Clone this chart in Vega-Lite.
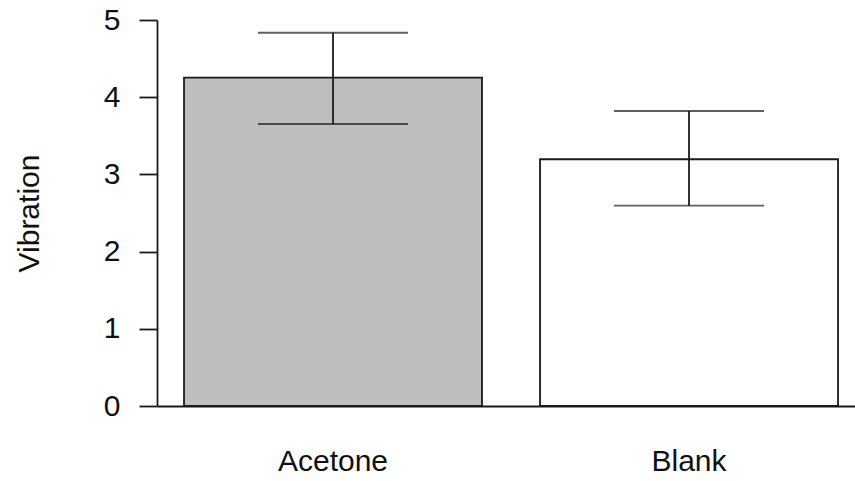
{
  "$schema": "https://vega.github.io/schema/vega-lite/v6.json",
  "width": 698,
  "height": 386,
  "autosize": {"type": "none"},
  "padding": {"left": 157, "top": 20, "right": 0, "bottom": 75},
  "background": "white",
  "config": {
    "view": {"stroke": null},
    "font": "Liberation Sans",
    "axis": {"labelFont": "Liberation Sans", "titleFont": "Liberation Sans", "labelColor": "#111", "titleColor": "#111", "domainColor": "#1a1a1a", "tickColor": "#1a1a1a", "domainWidth": 1.8, "tickWidth": 1.8, "grid": false}
  },
  "data": {"values": [
    {"group": "Acetone", "mean": 4.253, "lo": 3.653, "hi": 4.835},
    {"group": "Blank", "mean": 3.196, "lo": 2.595, "hi": 3.821}
  ]},
  "encoding": {
    "x": {"field": "group", "type": "nominal",
      "scale": {"type": "band", "paddingInner": 0.163, "paddingOuter": 0.0618, "align": 0.614},
      "axis": {"title": null, "labelAngle": 0, "ticks": false, "domain": true, "labelFontSize": 30, "labelPadding": 64, "labelBaseline": "alphabetic"}}
  },
  "layer": [
    {
      "mark": {"type": "bar", "stroke": "#1a1a1a", "strokeWidth": 1.8},
      "encoding": {
        "y": {"field": "mean", "type": "quantitative", "scale": {"domain": [0, 5], "nice": false},
          "axis": {"title": "Vibration", "values": [0, 1, 2, 3, 4, 5], "format": "d", "tickSize": 18, "labelPadding": 19, "labelFontSize": 30, "titleFontSize": 30, "titleFontWeight": "normal", "titleX": -119, "titleY": 193, "titleBaseline": "alphabetic", "titleAngle": 270}},
        "fill": {"field": "group", "type": "nominal", "scale": {"domain": ["Acetone", "Blank"], "range": ["#bebebe", "#ffffff"]}, "legend": null}
      }
    },
    {
      "mark": {"type": "rule", "color": "#1a1a1a", "strokeWidth": 1.8},
      "encoding": {"y": {"field": "lo", "type": "quantitative"}, "y2": {"field": "hi"}}
    },
    {
      "mark": {"type": "tick", "color": "#1a1a1a", "size": 150, "thickness": 1.8, "orient": "horizontal"},
      "encoding": {"y": {"field": "lo", "type": "quantitative"}}
    },
    {
      "mark": {"type": "tick", "color": "#1a1a1a", "size": 150, "thickness": 1.8, "orient": "horizontal"},
      "encoding": {"y": {"field": "hi", "type": "quantitative"}}
    }
  ]
}
